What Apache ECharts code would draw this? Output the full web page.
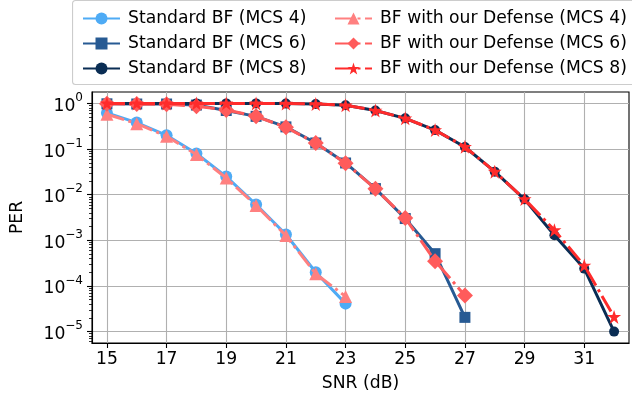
<!DOCTYPE html>
<html>
<head>
<meta charset="utf-8">
<script src="https://cdn.jsdelivr.net/npm/echarts@6/dist/echarts.min.js"></script>
<style>
html,body{margin:0;padding:0;background:#fff;}
#chart{width:632px;height:400px;}
</style>
</head>
<body>
<div id="chart"></div>
<script>
// ---- data ----
const snr4 = [15, 16, 17, 18, 19, 20, 21, 22, 23];
const snr6 = [15, 16, 17, 18, 19, 20, 21, 22, 23, 24, 25, 26, 27];
const snr8 = [15, 16, 17, 18, 19, 20, 21, 22, 23, 24, 25, 26, 27, 28, 29, 30, 31, 32];

const stdMcs4 = [0.62, 0.38, 0.20, 0.080, 0.0249, 0.0061, 0.00134, 2.0e-4, 4.1e-5];
const defMcs4 = [0.58, 0.36, 0.19, 0.076, 0.0232, 0.0058, 0.00127, 1.85e-4, 5.9e-5];
const stdMcs6 = [0.98, 0.97, 0.97, 0.92, 0.70, 0.52, 0.306, 0.136, 0.0495, 0.0136, 0.0030, 5.1e-4, 2.05e-5];
const defMcs6 = [0.98, 0.97, 0.96, 0.87, 0.72, 0.52, 0.300, 0.135, 0.0490, 0.0135, 0.0031, 3.5e-4, 6.2e-5];
const stdMcs8 = [1.0, 1.0, 1.0, 1.0, 1.0, 1.0, 0.99, 0.97, 0.91, 0.70, 0.47, 0.26, 0.111, 0.032, 0.0079, 0.00129, 2.4e-4, 1.0e-5];
const defMcs8 = [1.0, 1.0, 1.0, 1.0, 1.0, 1.0, 0.99, 0.97, 0.91, 0.70, 0.47, 0.26, 0.112, 0.032, 0.0080, 0.00167, 2.8e-4, 2.1e-5];

const seriesNames = [
  'Standard BF (MCS 4)', 'Standard BF (MCS 6)', 'Standard BF (MCS 8)',
  'BF with our Defense (MCS 4)', 'BF with our Defense (MCS 6)', 'BF with our Defense (MCS 8)'
];

const xTicks = [15, 17, 19, 21, 23, 25, 27, 29, 31];
const yTicks = [1e-5, 1e-4, 1e-3, 1e-2, 1e-1, 1];
const minorMantissas = [2, 3, 4, 5, 6, 7, 8, 9];
const minorDecades = [1e-6, 1e-5, 1e-4, 1e-3, 1e-2, 1e-1, 1];

// ---- chart ----
const FONT = 'DejaVu Sans';
const FS = 17.2;
const yMin = Math.pow(10, -5.25);
const yMax = Math.pow(10, 0.25);

const minorTicks = [];
minorDecades.forEach(d => minorMantissas.forEach(m => {
  const v = m * d;
  if (v > yMin && v < yMax) minorTicks.push(v);
}));

const colors = ['#4eabf5', '#275a93', '#0a2d54', '#ff8080', '#ff5b5b', '#ff2b2b'];
const starPath = 'path://M50,0 L61.8,35.4 L100,35.4 L69.1,57.3 L80.9,95.1 L50,72.4 L19.1,95.1 L30.9,57.3 L0,35.4 L38.2,35.4 Z';
const symbols = ['circle', 'rect', 'circle', 'triangle', 'diamond', starPath];
const symbolSizes = [12, 11, 10, 13, 16, 14];
const dashDot = [18, 4.5, 3, 4.5];

function pairs(xs, ys) { return xs.map((x, i) => [x, ys[i]]); }
const seriesData = [
  pairs(snr4, stdMcs4), pairs(snr6, stdMcs6), pairs(snr8, stdMcs8),
  pairs(snr4, defMcs4), pairs(snr6, defMcs6), pairs(snr8, defMcs8)
];

const series = seriesNames.map((name, i) => ({
  name: name,
  type: 'line',
  data: seriesData[i],
  xAxisIndex: 0,
  yAxisIndex: 0,
  symbol: symbols[i],
  symbolSize: symbolSizes[i],
  showAllSymbol: true,
  color: colors[i],
  itemStyle: { color: colors[i], borderWidth: 0 },
  lineStyle: { width: 3, color: colors[i], type: i < 3 ? 'solid' : dashDot },
  emphasis: { disabled: true },
  z: 2 + i,
  animation: false
}));

function yLabel(v) {
  const e = Math.round(Math.log10(v));
  return '{b|10}{s|' + (e < 0 ? '\u2212' + (-e) : String(e)) + '}';
}

const legendText = { fontFamily: FONT, fontSize: FS, color: '#000', lineHeight: 17, padding: [0, 0, 0, 3] };

const option = {
  animation: false,
  backgroundColor: '#fff',
  textStyle: { fontFamily: FONT },
  grid: {
    left: 92, top: 92, width: 537, height: 251,
    show: true, borderColor: '#000', borderWidth: 1.1, backgroundColor: 'transparent',
    containLabel: false
  },
  graphic: [{
    type: 'rect', left: 72, top: 0, z: 0,
    shape: { width: 562, height: 84, r: 3 },
    style: { fill: 'rgba(255,255,255,0.8)', stroke: '#cccccc', lineWidth: 1.1 }
  }],
  legend: [
    {
      orient: 'vertical', left: 77, top: 5, z: 10,
      itemWidth: 37, itemHeight: 15, itemGap: 8,
      selectedMode: false,
      data: seriesNames.slice(0, 3),
      textStyle: legendText
    },
    {
      orient: 'vertical', left: 329, top: 5, z: 10,
      itemWidth: 37, itemHeight: 15, itemGap: 8,
      selectedMode: false,
      data: seriesNames.slice(3),
      textStyle: legendText
    }
  ],
  xAxis: [{
    type: 'value', min: 14.5, max: 32.5,
    name: 'SNR (dB)', nameLocation: 'middle', nameGap: 32,
    nameTextStyle: { fontFamily: FONT, fontSize: FS, color: '#000' },
    axisLine: { show: true, onZero: false, lineStyle: { color: '#000', width: 1.1 } },
    axisTick: { show: true, length: 5, inside: false, customValues: xTicks, lineStyle: { color: '#000', width: 1.1 } },
    axisLabel: { customValues: xTicks, margin: 8, fontFamily: FONT, fontSize: FS, color: '#000' },
    splitLine: { show: true, lineStyle: { color: '#b0b0b0', width: 1.1 } }
  }],
  yAxis: [{
    type: 'log', logBase: 10, min: yMin, max: yMax,
    name: 'PER', nameLocation: 'middle', nameGap: 66,
    nameTextStyle: { fontFamily: FONT, fontSize: FS, color: '#000' },
    axisLine: { show: true, lineStyle: { color: '#000', width: 1.1 } },
    axisTick: { show: true, length: 5, inside: false, customValues: yTicks, lineStyle: { color: '#000', width: 1.1 } },
    axisLabel: {
      customValues: yTicks, margin: 9, formatter: yLabel, color: '#000',
      rich: {
        b: { fontFamily: FONT, fontSize: FS, color: '#000', lineHeight: 23, verticalAlign: 'bottom' },
        s: { fontFamily: FONT, fontSize: 12, color: '#000', lineHeight: 12, verticalAlign: 'top' }
      }
    },
    splitLine: { show: true, lineStyle: { color: '#b0b0b0', width: 1.1 } },
    minorTick: { show: false }
  }, {
    type: 'log', logBase: 10, min: yMin, max: yMax, position: 'left',
    axisLine: { show: false },
    axisTick: { show: true, length: 3, inside: false, customValues: minorTicks, lineStyle: { color: '#000', width: 0.8 } },
    axisLabel: { show: false },
    splitLine: { show: false }
  }],
  series: series
};

const chart = echarts.init(document.getElementById('chart'), null, { renderer: 'canvas' });
chart.setOption(option);
</script>
</body>
</html>
